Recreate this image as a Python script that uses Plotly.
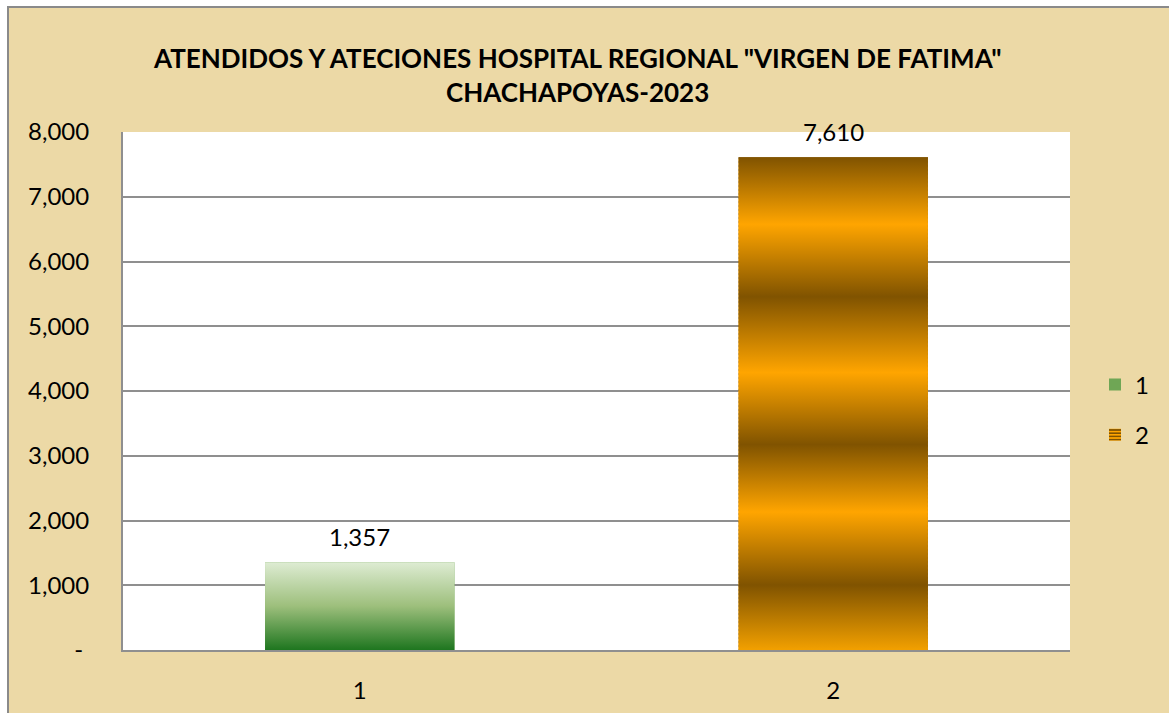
import plotly.graph_objects as go

# ---- data ----
categories = ["1", "2"]
values = [1357, 7610]
y_tick_vals = [0, 1000, 2000, 3000, 4000, 5000, 6000, 7000, 8000]
y_tick_text = ["-\u00a0", "1,000", "2,000", "3,000", "4,000",
               "5,000", "6,000", "7,000", "8,000"]
title_lines = ['ATENDIDOS Y ATECIONES HOSPITAL REGIONAL "VIRGEN DE FATIMA"', "CHACHAPOYAS-2023"]

# ---- styles ----
W, H = 1169, 713
ML, MR, MT, MB = 123, 99, 132, 63
PW, PH = W - ML - MR, H - MT - MB
FONT = "Lato, 'Open Sans', sans-serif"
PAPYRUS = "#ECD9A6"
GRID = "#8F8F8F"
BAR_WIDTH = 0.4
DARK, ORANGE = "#805300", "#FFA500"
green_scale = [[0.0, "#1E761F"], [0.5, "#9DBF7C"], [1.0, "#DEECD3"]]
orange_scale = [[0.0, "#F2A000"], [0.132, DARK], [0.28, ORANGE], [0.417, DARK],
                [0.563, ORANGE], [0.717, DARK], [0.864, ORANGE], [1.0, DARK]]
gradients = [green_scale, orange_scale]
bar_markers = [
    dict(color="#6FA655", line=dict(width=0)),
    dict(color=ORANGE, line=dict(width=0),
         pattern=dict(shape="-", fgcolor=DARK, bgcolor=ORANGE, size=4, solidity=0.5,
                      fillmode="replace")),
]

def px_x(px):
    return (px - ML) / PW

def px_y(py):
    return (H - MB - py) / PH

fig = go.Figure()
xs = list(range(len(categories)))
for i, (c, v) in enumerate(zip(categories, values)):
    fig.add_trace(go.Bar(
        x=[xs[i]], y=[v], name=c, width=BAR_WIDTH,
        marker=bar_markers[i], legendgroup=c, hoverinfo="skip",
    ))
for i, v in enumerate(values):
    x0, x1 = xs[i] - BAR_WIDTH / 2, xs[i] + BAR_WIDTH / 2
    fig.add_trace(go.Scatter(
        x=[x0, x1, x1, x0, x0], y=[0, 0, v, v, 0],
        mode="none", fill="toself",
        fillgradient=dict(type="vertical", colorscale=gradients[i], start=0, stop=v),
        showlegend=False, hoverinfo="skip",
    ))

annotations = []
for i, v in enumerate(values):
    annotations.append(dict(
        x=xs[i], y=v, xref="x", yref="y", text=f"{v:,}", showarrow=False,
        yanchor="middle", yshift=26, font=dict(family=FONT, size=24, color="#000000"),
    ))
for line, py in zip(title_lines, [58, 92]):
    annotations.append(dict(x=px_x(577), y=px_y(py), xref="paper", yref="paper",
                            text=f"<b>{line}</b>", showarrow=False,
                            xanchor="center", yanchor="middle",
                            font=dict(family=FONT, size=26, color="#000000")))

shapes = [
    dict(type="rect", xref="paper", yref="paper", layer="below",
         x0=px_x(8), x1=px_x(W + 20), y0=px_y(H + 20), y1=px_y(7),
         fillcolor=PAPYRUS, line=dict(color="#8A8A8A", width=2)),
    dict(type="rect", xref="paper", yref="paper", layer="below",
         x0=0, x1=1, y0=0, y1=1, fillcolor="#FFFFFF", line=dict(width=0)),
]

fig.update_layout(
    width=W, height=H,
    margin=dict(l=ML, r=MR, t=MT, b=MB, autoexpand=False),
    paper_bgcolor="#FFFFFF", plot_bgcolor="rgba(0,0,0,0)",
    barmode="overlay",
    font=dict(family=FONT, size=24, color="#000000"),
    showlegend=True,
    legend=dict(x=px_x(1095), y=px_y(410), xanchor="left", yanchor="middle",
                bgcolor="rgba(0,0,0,0)", font=dict(family=FONT, size=24),
                tracegroupgap=16, itemwidth=30),
    annotations=annotations,
    shapes=shapes,
    xaxis=dict(range=[-0.5, 1.5], tickvals=xs, ticktext=categories,
               showgrid=False, zeroline=False, showline=True, linecolor=GRID,
               linewidth=2, ticks="", ticklabelstandoff=18, automargin=False,
               tickfont=dict(family=FONT, size=24)),
    yaxis=dict(range=[0, 8000], tickvals=y_tick_vals, ticktext=y_tick_text,
               showgrid=True, gridcolor=GRID, gridwidth=1.8, zeroline=False,
               showline=True, linecolor=GRID, linewidth=2, ticks="", automargin=False,
               ticklabelstandoff=27, tickfont=dict(family=FONT, size=24)),
)

fig.write_html("out.html", config={"displayModeBar": False},
               post_script="document.body.style.margin='0';")
